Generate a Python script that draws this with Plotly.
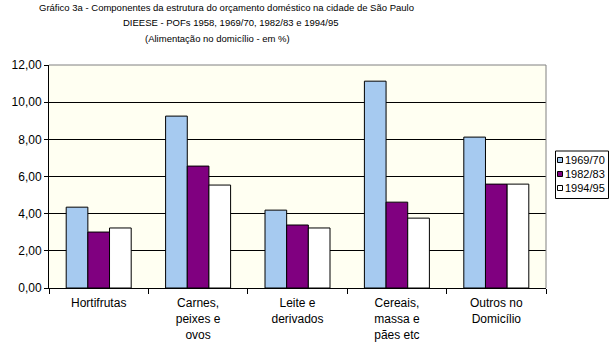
import plotly.graph_objects as go

categories = ["Hortifrutas", "Carnes,<br>peixes e<br>ovos", "Leite e<br>derivados",
              "Cereais,<br>massa e<br>pães etc", "Outros no<br>Domicílio"]
series_names = ["1969/70", "1982/83", "1994/95"]
v_1969 = [4.35, 9.25, 4.19, 11.13, 8.12]
v_1982 = [3.01, 6.56, 3.39, 4.62, 5.59]
v_1994 = [3.23, 5.54, 3.23, 3.76, 5.59]
colors = ["#A6CAF0", "#800080", "#FFFFFF"]
y_ticks = [0, 2, 4, 6, 8, 10, 12]

W, H = 612, 344
ML, MR, MT, MB = 49, 66, 65, 56
PW, PH = W - ML - MR, H - MT - MB


def px(x):
    return (x - ML) / PW


def py(y):
    return (H - MB - y) / PH


font = "Liberation Sans, Arial, sans-serif"
fig = go.Figure()
for name, vals, c in zip(series_names, [v_1969, v_1982, v_1994], colors):
    fig.add_trace(go.Bar(x=categories, y=vals, name=name, marker=dict(color=c, line=dict(color="black", width=1))))

shapes = [
    dict(type="line", xref="paper", yref="paper", x0=0, x1=1, y0=1, y1=1, line=dict(color="#808080", width=1)),
    dict(type="line", xref="paper", yref="paper", x0=1, x1=1, y0=0, y1=1, line=dict(color="#808080", width=1)),
    # legend box
    dict(type="rect", xref="paper", yref="paper", x0=px(555.5), x1=px(608.5), y0=py(151), y1=py(198.5),
         line=dict(color="black", width=1), fillcolor="white"),
]
annotations = [
    dict(text="Gráfico 3a - Componentes da estrutura do orçamento doméstico na cidade de São Paulo",
         xref="paper", yref="paper", x=px(226), y=py(8), xanchor="center", yanchor="middle",
         showarrow=False, font=dict(size=9.5)),
    dict(text="DIEESE - POFs 1958, 1969/70, 1982/83 e 1994/95",
         xref="paper", yref="paper", x=px(230), y=py(22), xanchor="center", yanchor="middle",
         showarrow=False, font=dict(size=9.5)),
    dict(text="(Alimentação no domicílio - em %)",
         xref="paper", yref="paper", x=px(217), y=py(38), xanchor="center", yanchor="middle",
         showarrow=False, font=dict(size=9.5)),
]
for i, (name, c) in enumerate(zip(series_names, colors)):
    yc = 160 + 14 * i
    shapes.append(dict(type="rect", xref="paper", yref="paper", x0=px(557.5), x1=px(562.5),
                       y0=py(yc - 2.5), y1=py(yc + 2.5), line=dict(color="black", width=1), fillcolor=c))
    annotations.append(dict(text=name, xref="paper", yref="paper", x=px(563), y=py(yc), xanchor="left",
                            yanchor="middle", showarrow=False, font=dict(size=11, family=font)))

fig.update_layout(
    width=W, height=H,
    margin=dict(l=ML, r=MR, t=MT, b=MB, autoexpand=False),
    paper_bgcolor="white", plot_bgcolor="#FFFFF2",
    separators=",.",
    barmode="group", bargap=0.346, bargroupgap=0,
    font=dict(family=font, size=11, color="black"),
    showlegend=False,
    xaxis=dict(showline=True, linecolor="black", linewidth=1, ticks="outside", tickson="boundaries",
               ticklen=5, tickcolor="black", showgrid=False, tickfont=dict(size=12),
               fixedrange=True, automargin=False, ticklabelstandoff=4),
    yaxis=dict(range=[0, 12], tickvals=y_ticks, tickformat=".2f", showline=True, linecolor="black",
               linewidth=1, ticks="outside", ticklen=4, tickcolor="black", showgrid=True,
               gridcolor="black", gridwidth=1, zeroline=False, tickfont=dict(size=12), automargin=False),
    shapes=shapes,
    annotations=annotations,
)
fig.write_html("out.html")
